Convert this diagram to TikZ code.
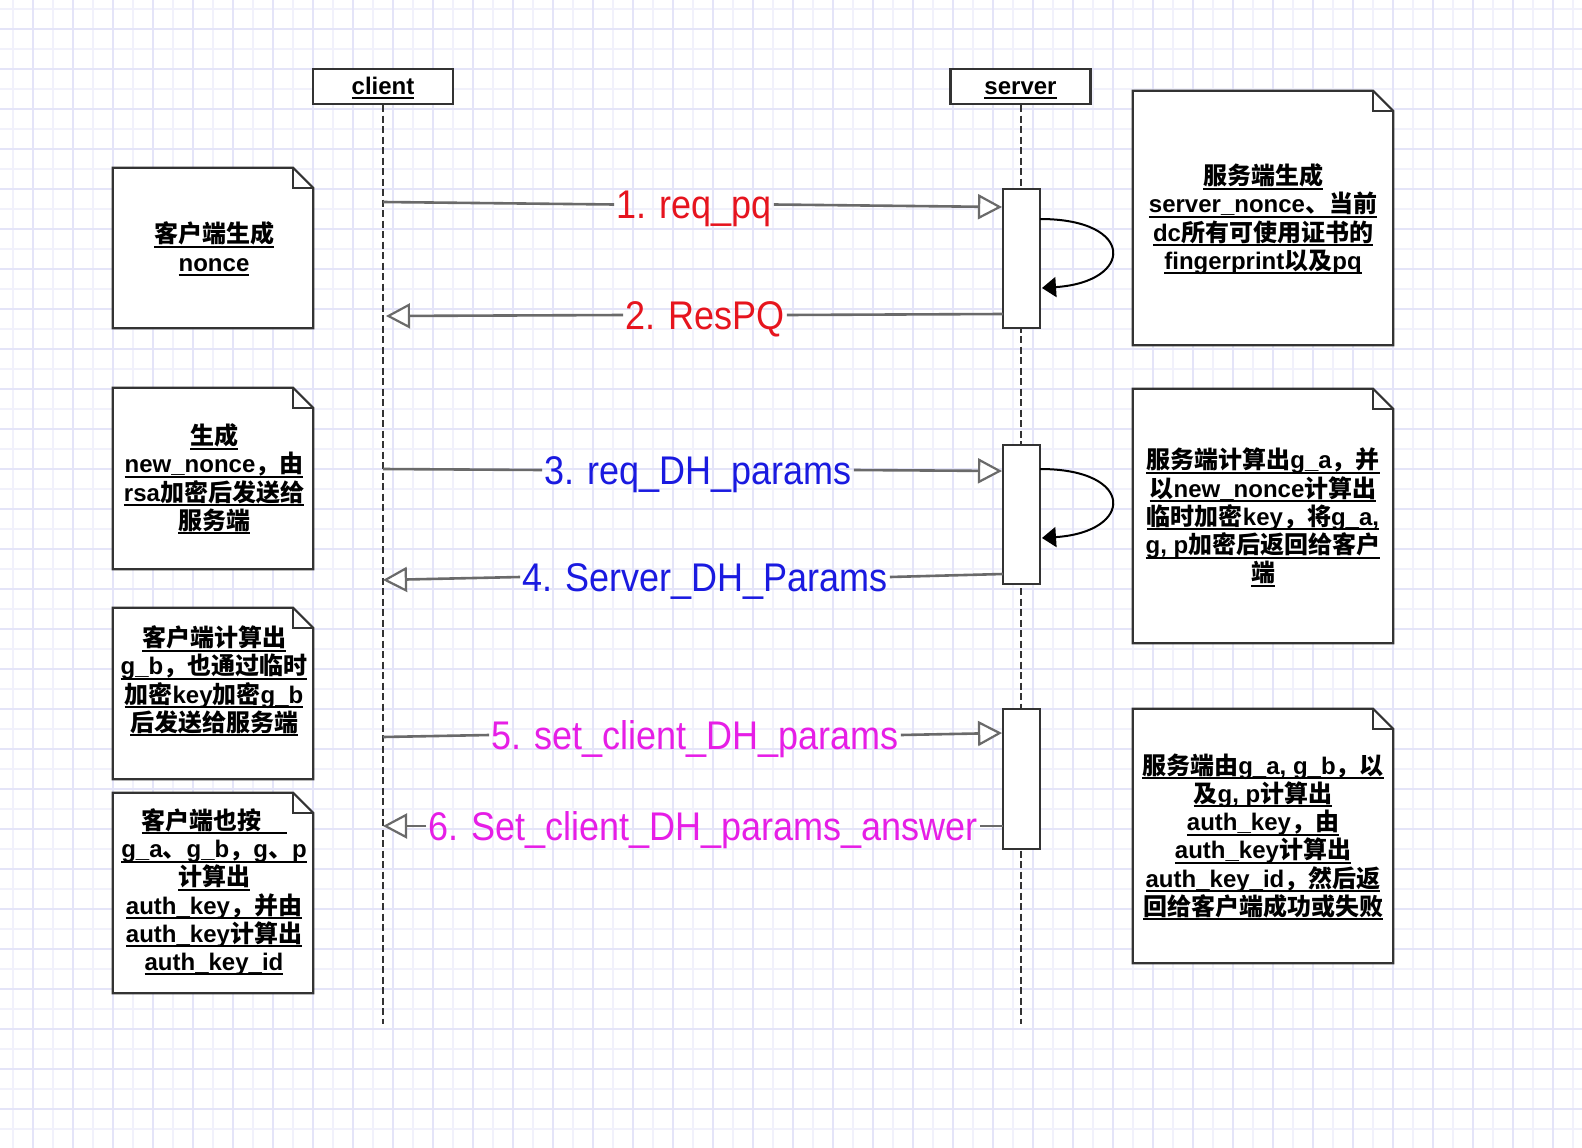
\documentclass[tikz,border=0pt]{standalone}
\usepackage{fontspec}
\setmainfont{Liberation Sans}
\newfontfamily\cjk{Noto Sans CJK SC}
\newfontfamily\lblfont[FakeStretch=0.9]{Liberation Sans}
\usetikzlibrary{arrows.meta,calc}
\newcommand\zh[1]{{\cjk #1}}
\newsavebox\ulbox
\newcommand\ul[1]{\sbox\ulbox{#1}\rlap{\rule[-5pt]{\wd\ulbox}{2pt}}\usebox\ulbox}
\definecolor{gridmin}{HTML}{F1F1FB}
\definecolor{gridmaj}{HTML}{E4E4F8}
\definecolor{cred}{HTML}{E6141E}
\definecolor{cblue}{HTML}{1A1AE0}
\definecolor{cmag}{HTML}{E61EE6}
\definecolor{linegray}{HTML}{6A6A6A}
\definecolor{border}{HTML}{333333}
\tikzset{
  headbox/.style={draw=border, line width=2.2pt, fill=white, minimum width=140pt, minimum height=35pt, inner sep=0pt, text height=20pt, text depth=5pt, font=\bfseries\fontsize{24}{28}\selectfont},
  actbox/.style={draw=border, line width=2pt, fill=white, minimum width=37pt, inner sep=0pt},
  notebox/.style={rectangle, inner sep=0pt},
  noteline/.style={draw=border, line width=2.2pt, line join=miter},
  notetext/.style={align=center, inner sep=0pt, font=\bfseries\fontsize{24}{28.2}\selectfont},
  lifeline/.style={draw=border, line width=2pt, dash pattern=on 7pt off 3.5pt},
  msgline/.style={draw=linegray, line width=2.6pt},
  msgarrow/.style={msgline, -{Triangle[open, length=24pt, width=25pt, line width=2.2pt, fill=white]}},
  msglabel/.style={inner sep=2pt, text height=28.6pt, text depth=0pt, font=\lblfont\fontsize{40}{44}\selectfont},
  loopline/.style={draw=black, line width=2pt, -{Triangle[length=14pt, width=20pt]}},
}
\newcommand\notedraw[1]{%
  \draw[noteline, fill=white] (#1.north west) -- ([xshift=-20pt]#1.north east) -- ([yshift=-20pt]#1.north east) -- (#1.south east) -- (#1.south west) -- cycle;
  \draw[noteline] ([xshift=-20pt]#1.north east) -- ([xshift=-20pt,yshift=-20pt]#1.north east) -- ([yshift=-20pt]#1.north east);}
\begin{document}
\begin{tikzpicture}[x=1pt, y=-1pt]
\useasboundingbox (0,0) rectangle (1582,1148);
\fill[white] (0,0) rectangle (1582,1148);
% grid
\foreach \x in {13,53,...,1582} \draw[gridmin, line width=1.5pt] (\x,0) -- (\x,1148);
\foreach \y in {9,49,...,1148} \draw[gridmin, line width=1.5pt] (0,\y) -- (1582,\y);
\foreach \x in {33,73,...,1582} \draw[gridmaj, line width=2pt] (\x,0) -- (\x,1148);
\foreach \y in {29,69,...,1148} \draw[gridmaj, line width=2pt] (0,\y) -- (1582,\y);

% lifelines
\node[headbox] (client) at (383,86.5) {\ul{client}};
\node[headbox] (server) at (1020.5,86.5) {\ul{server}};
\coordinate (cend) at (383,1024);
\coordinate (send) at (1020.5,1024);
\draw[lifeline] (client.south) -- (cend);
\draw[lifeline] (server.south) -- (send);

% activation boxes
\node[actbox, minimum height=139pt] (act1) at (1021.5,258.5) {};
\node[actbox, minimum height=139pt] (act2) at (1021.5,514.5) {};
\node[actbox, minimum height=140pt] (act3) at (1021.5,779) {};

% message endpoints
\coordinate (c1) at (383,202);   \coordinate (a1) at (1002,207);
\coordinate (a2) at (1003,314);  \coordinate (c2) at (386,316);
\coordinate (c3) at (383,469);   \coordinate (a3) at (1002,471);
\coordinate (a4) at (1003,574);  \coordinate (c4) at (383,580);
\coordinate (c5) at (383,737);   \coordinate (a5) at (1002,733);
\coordinate (a6) at (1003,826);  \coordinate (c6) at (383,826);

% labels
\node[msglabel, text=cred] (l1) at (694,204.5) {1. req\_pq};
\node[msglabel, text=cred] (l2) at (705,315) {2. ResPQ};
\node[msglabel, text=cblue] (l3) at (698,470) {3. req\_DH\_params};
\node[msglabel, text=cblue] (l4) at (705,577) {4. Server\_DH\_Params};
\node[msglabel, text=cmag] (l5) at (695,735) {5. set\_client\_DH\_params};
\node[msglabel, text=cmag] (l6) at (703,826) {6. Set\_client\_DH\_params\_answer};

\draw[msgline] (c1) -- (l1.west);  \draw[msgarrow] (l1.east) -- (a1);
\draw[msgline] (a2) -- (l2.east);  \draw[msgarrow] (l2.west) -- (c2);
\draw[msgline] (c3) -- (l3.west);  \draw[msgarrow] (l3.east) -- (a3);
\draw[msgline] (a4) -- (l4.east);  \draw[msgarrow] (l4.west) -- (c4);
\draw[msgline] (c5) -- (l5.west);  \draw[msgarrow] (l5.east) -- (a5);
\draw[msgline] (a6) -- (l6.east);  \draw[msgarrow] (l6.west) -- (c6);

% self loops
\coordinate (s1a) at (1040,219); \coordinate (s1b) at (1042,288);
\coordinate (s2a) at (1040,469); \coordinate (s2b) at (1042,538);
\draw[loopline] (s1a) .. controls (1136,219) and (1134,282) .. (s1b);
\draw[loopline] (s2a) .. controls (1136,469) and (1134,532) .. (s2b);

% notes left
\node[notebox, minimum width=200pt, minimum height=160pt] (n1) at (213,248) {};
\node[notebox, minimum width=200pt, minimum height=181pt] (n2) at (213,478.5) {};
\node[notebox, minimum width=200pt, minimum height=171pt] (n3) at (213,693.5) {};
\node[notebox, minimum width=200pt, minimum height=200pt] (n4) at (213,893) {};
% notes right
\node[notebox, minimum width=260pt, minimum height=254pt] (r1) at (1263,218) {};
\node[notebox, minimum width=260pt, minimum height=254pt] (r2) at (1263,516) {};
\node[notebox, minimum width=260pt, minimum height=254pt] (r3) at (1263,836) {};
\notedraw{n1}\notedraw{n2}\notedraw{n3}\notedraw{n4}
\notedraw{r1}\notedraw{r2}\notedraw{r3}

\node[notetext] (t1) at (214,249) {\ul{\zh{客户端生成}}\\ \ul{nonce}};
\node[notetext] (t2) at (214,479) {\ul{\zh{生成}}\\ \ul{new\_nonce\zh{，由}}\\ \ul{rsa\zh{加密后发送给}}\\ \ul{\zh{服务端}}};
\node[notetext] (t3) at (214,681) {\ul{\zh{客户端计算出}}\\ \ul{g\_b\zh{，也通过临时}}\\ \ul{\zh{加密}key\zh{加密}g\_b}\\ \ul{\zh{后发送给服务端}}};
\node[notetext] (t4) at (214,892) {\ul{\zh{客户端也按}\hspace{25pt}}\\ \ul{g\_a\zh{、}g\_b\zh{，}g\zh{、}p}\\ \ul{\zh{计算出}}\\ \ul{auth\_key\zh{，并由}}\\ \ul{auth\_key\zh{计算出}}\\ \ul{auth\_key\_id}};
\node[notetext] (u1) at (1263,219) {\ul{\zh{服务端生成}}\\ \ul{server\_nonce\zh{、当前}}\\ \ul{dc\zh{所有可使用证书的}}\\ \ul{fingerprint\zh{以及}pq}};
\node[notetext] (u2) at (1263,517.5) {\ul{\zh{服务端计算出}g\_a\zh{，并}}\\ \ul{\zh{以}new\_nonce\zh{计算出}}\\ \ul{\zh{临时加密}key\zh{，将}g\_a,}\\ \ul{g, p\zh{加密后返回给客户}}\\ \ul{\zh{端}}};
\node[notetext] (u3) at (1263,837) {\ul{\zh{服务端由}g\_a, g\_b\zh{，以}}\\ \ul{\zh{及}g, p\zh{计算出}}\\ \ul{auth\_key\zh{，由}}\\ \ul{auth\_key\zh{计算出}}\\ \ul{auth\_key\_id\zh{，然后返}}\\ \ul{\zh{回给客户端成功或失败}}};
\end{tikzpicture}
\end{document}
